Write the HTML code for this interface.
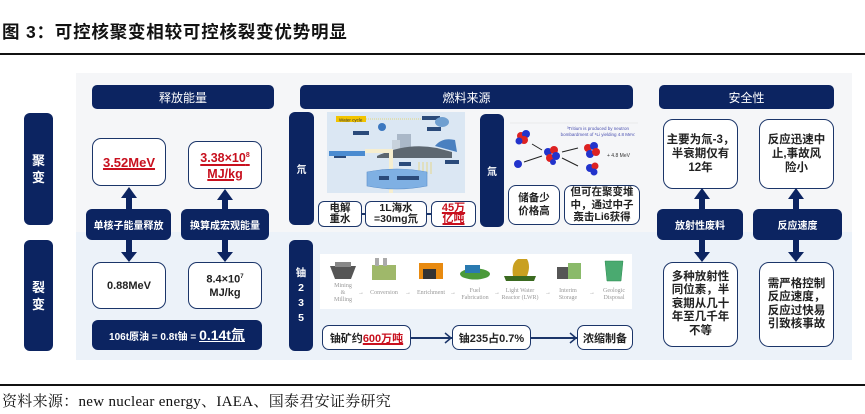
<!DOCTYPE html>
<html><head><meta charset="utf-8">
<style>
*{margin:0;padding:0;box-sizing:border-box}
body{width:865px;height:414px;background:#fff;position:relative;overflow:hidden;font-family:"Liberation Sans","Noto Sans CJK SC",sans-serif;}
.a{position:absolute}
.nv{position:absolute;background:#0c2461;color:#fff;border-radius:5px;display:flex;align-items:center;justify-content:center;text-align:center;font-weight:bold}
.wb{position:absolute;background:#fff;border:1.6px solid #1b3569;border-radius:9px;display:flex;align-items:center;justify-content:center;text-align:center;font-weight:bold;color:#222}
.red{color:#c8101e;text-decoration:underline;text-decoration-thickness:1.5px}
.vt{flex-direction:column;font-size:12px;line-height:15px}
.sh{position:absolute;background:#0c2461}
</style></head><body>
<div class="a" style="left:2px;top:19px;font-size:17.5px;font-weight:bold;color:#111;letter-spacing:0.8px;white-space:nowrap">图 3：可控核聚变相较可控核裂变优势明显</div>
<div class="a" style="left:0;top:53px;width:865px;height:1.5px;background:#111"></div>

<!-- panel -->
<div class="a" style="left:76px;top:73px;width:776px;height:159px;background:#f5f6f8"></div>
<div class="a" style="left:76px;top:232px;width:776px;height:128px;background:#ecf2f9"></div>

<!-- left labels -->
<div class="nv vt" style="left:24px;top:113px;width:29px;height:112px;border-radius:6px;font-size:13px;line-height:17px">聚<br>变</div>
<div class="nv vt" style="left:24px;top:240px;width:29px;height:111px;border-radius:6px;font-size:13px;line-height:17px">裂<br>变</div>

<!-- headers -->
<div class="nv" style="left:92px;top:85px;width:182px;height:24px;font-weight:normal;font-size:12px">释放能量</div>
<div class="nv" style="left:300px;top:85px;width:333px;height:24px;font-weight:normal;font-size:12px">燃料来源</div>
<div class="nv" style="left:659px;top:85px;width:175px;height:24px;font-weight:normal;font-size:12px">安全性</div>

<!-- energy section -->
<div class="wb" style="left:92px;top:138px;width:74px;height:48px"><span class="red" style="font-size:13px">3.52MeV</span></div>
<div class="wb" style="left:188px;top:141px;width:74px;height:48px;flex-direction:column;line-height:15px"><span class="red" style="font-size:12.5px">3.38×10<sup style="font-size:7px">8</sup></span><span class="red" style="font-size:12.5px">MJ/kg</span></div>
<!-- arrows up -->
<div class="sh" style="left:126px;top:196px;width:6px;height:14px"></div>
<svg class="a" style="left:121px;top:187px" width="16" height="11"><polygon points="8,0 16,11 0,11" fill="#0c2461"/></svg>
<div class="sh" style="left:222px;top:198px;width:6px;height:12px"></div>
<svg class="a" style="left:217px;top:189px" width="16" height="11"><polygon points="8,0 16,11 0,11" fill="#0c2461"/></svg>
<div class="nv" style="left:86px;top:209px;width:85px;height:31px;font-size:10px;border-radius:6px">单核子能量释放</div>
<div class="nv" style="left:181px;top:209px;width:88px;height:31px;font-size:10px;border-radius:6px">换算成宏观能量</div>
<!-- arrows down -->
<div class="sh" style="left:126px;top:240px;width:6px;height:14px"></div>
<svg class="a" style="left:121px;top:252px" width="16" height="10"><polygon points="0,0 16,0 8,10" fill="#0c2461"/></svg>
<div class="sh" style="left:222px;top:240px;width:6px;height:14px"></div>
<svg class="a" style="left:217px;top:252px" width="16" height="10"><polygon points="0,0 16,0 8,10" fill="#0c2461"/></svg>
<div class="wb" style="left:92px;top:262px;width:74px;height:47px;font-size:11px">0.88MeV</div>
<div class="wb" style="left:188px;top:262px;width:74px;height:47px;font-size:11px;flex-direction:column;line-height:13px"><span>8.4×10<sup style="font-size:6px">7</sup></span><span>MJ/kg</span></div>
<div class="nv" style="left:92px;top:320px;width:170px;height:30px;font-size:10px;border-radius:6px;white-space:nowrap">106t原油 = 0.8t铀 =&nbsp;<span style="font-size:14px;text-decoration:underline">0.14t氚</span></div>

<!-- fuel: deuterium -->
<div class="nv" style="left:289px;top:112px;width:25px;height:113px;font-size:10px;border-radius:6px">氘</div>
<svg class="a" style="left:327px;top:112px" width="138" height="81">
<rect width="138" height="81" fill="#dbe7f3"/>
<rect x="9" y="4" width="30" height="6" fill="#f2c400"/>
<text x="12" y="9.3" font-size="4.5" fill="#333" font-family="Liberation Sans">Water cycle</text>
<line x1="39" y1="7" x2="95" y2="7" stroke="#e6c200" stroke-dasharray="1,1" stroke-width=".6"/>
<rect x="95" y="4" width="18" height="4" fill="#2a4a7a"/>
<rect x="26" y="19" width="16" height="4" fill="#2a4a7a"/>
<rect x="100" y="15" width="14" height="4" fill="#2a4a7a"/>
<rect x="7" y="42" width="12" height="4" fill="#2a4a7a"/>
<ellipse cx="115" cy="10" rx="7" ry="5" fill="#6f9fd0"/>
<circle cx="55" cy="15" r="4" fill="#3c78c0"/>
<rect x="70" y="22" width="14" height="18" fill="#aab8c8"/>
<rect x="65" y="28" width="8" height="12" fill="#c8d2dc"/>
<path d="M50 44 Q80 30 110 36 L125 40 L125 46 L50 46Z" fill="#5d6770"/>
<rect x="2" y="39" width="36" height="5" fill="#4a8bd0"/>
<rect x="38" y="37" width="26" height="4" fill="#f6eecf"/>
<rect x="62" y="37" width="4" height="50" fill="#f6eecf"/>
<path d="M108 34 Q115 25 128 28 L130 40 Z" fill="#4a80c0"/>
<g stroke="#e8d060" stroke-width=".7"><line x1="92" y1="50" x2="92" y2="62"/><line x1="96" y1="50" x2="96" y2="62"/><line x1="100" y1="50" x2="100" y2="62"/><line x1="104" y1="50" x2="104" y2="62"/></g>
<rect x="118" y="48" width="14" height="4" fill="#2a4a7a"/>
<rect x="72" y="50" width="12" height="4" fill="#2a4a7a"/>
<path d="M40 60 Q70 54 100 60 L100 74 Q70 80 40 74Z" fill="#7fb0e3" stroke="#5c8fca" stroke-width=".6"/>
<rect x="52" y="64" width="10" height="4" fill="#2a4a7a"/>
<rect x="70" y="64" width="22" height="4" fill="#2a4a7a"/>
</svg>
<div class="wb" style="left:318px;top:201px;width:44px;height:26px;font-size:10.5px;line-height:11px;border-radius:6px">电解<br>重水</div>
<div class="a" style="left:362px;top:213px;width:3px;height:1.5px;background:#1b3569"></div>
<div class="wb" style="left:365px;top:201px;width:62px;height:26px;font-size:10.5px;line-height:11px;border-radius:6px">1L海水<br>=30mg氘</div>
<div class="a" style="left:427px;top:213px;width:4px;height:1.5px;background:#1b3569"></div>
<div class="wb" style="left:431px;top:201px;width:45px;height:26px;font-size:11px;line-height:11px;border-radius:6px"><span class="red">45万<br>亿吨</span></div>

<!-- fuel: tritium -->
<div class="nv" style="left:480px;top:114px;width:24px;height:113px;font-size:10px;border-radius:6px">氚</div>
<svg class="a" style="left:510px;top:122px" width="128" height="62">
<line x1="0" y1="1" x2="128" y2="1" stroke="#ddd" stroke-width=".5"/>
<text x="88" y="8" font-size="4.5" fill="#4a50b0" text-anchor="middle" font-family="Liberation Sans">³Tritium is produced by neutron</text>
<text x="88" y="14" font-size="4.5" fill="#4a50b0" text-anchor="middle" font-family="Liberation Sans">bombardment of ⁶Li yielding 4.8 MeV.</text>
<g><circle cx="11" cy="14" r="4" fill="#d22"/><circle cx="16" cy="12" r="4" fill="#23c"/><circle cx="14" cy="18" r="4" fill="#d22"/><circle cx="9" cy="19" r="3.5" fill="#23c"/></g>
<circle cx="8" cy="42" r="4" fill="#23c"/>
<g><circle cx="38" cy="30" r="4" fill="#23c"/><circle cx="44" cy="28" r="4" fill="#d22"/><circle cx="40" cy="36" r="4" fill="#d22"/><circle cx="46" cy="34" r="4" fill="#23c"/><circle cx="43" cy="40" r="3" fill="#23c"/></g>
<line x1="22" y1="22" x2="32" y2="28" stroke="#222" stroke-width="1"/>
<line x1="14" y1="40" x2="32" y2="34" stroke="#222" stroke-width="1"/>
<line x1="52" y1="30" x2="68" y2="26" stroke="#222" stroke-width="1"/>
<line x1="52" y1="36" x2="68" y2="44" stroke="#222" stroke-width="1"/>
<g><circle cx="78" cy="26" r="4" fill="#d22"/><circle cx="84" cy="24" r="4" fill="#23c"/><circle cx="80" cy="32" r="4" fill="#23c"/><circle cx="86" cy="30" r="4" fill="#d22"/></g>
<g><circle cx="80" cy="46" r="4" fill="#23c"/><circle cx="85" cy="44" r="3.5" fill="#d22"/><circle cx="84" cy="50" r="3.5" fill="#23c"/></g>
<text x="97" y="35" font-size="5" fill="#333" font-family="Liberation Sans">+ 4.8 MeV</text>
</svg>
<div class="wb" style="left:508px;top:185px;width:52px;height:40px;font-size:10.5px;line-height:13px;border-radius:8px">储备少<br>价格高</div>
<div class="wb" style="left:564px;top:185px;width:76px;height:40px;font-size:10.5px;line-height:12.5px;border-radius:8px">但可在聚变堆<br>中，通过中子<br>轰击Li6获得</div>

<!-- fuel: uranium -->
<div class="nv vt" style="left:289px;top:240px;width:24px;height:111px;font-size:10.5px;line-height:15px;border-radius:6px">铀<br>2<br>3<br>5</div>
<svg class="a" style="left:320px;top:254px" width="312" height="55">
<rect width="312" height="55" fill="#fff"/>
<g font-family="Liberation Serif" font-size="6" fill="#999" text-anchor="middle">
<text x="23" y="33">Mining</text><text x="23" y="40">&amp;</text><text x="23" y="47">Milling</text>
<text x="64" y="40">Conversion</text>
<text x="111" y="40">Enrichment</text>
<text x="155" y="38">Fuel</text><text x="155" y="45">Fabrication</text>
<text x="200" y="38">Light Water</text><text x="200" y="45">Reactor (LWR)</text>
<text x="248" y="38">Interim</text><text x="248" y="45">Storage</text>
<text x="294" y="38">Geologic</text><text x="294" y="45">Disposal</text>
<text x="41" y="40">→</text><text x="88" y="40">→</text><text x="133" y="40">→</text><text x="177" y="40">→</text><text x="228" y="40">→</text><text x="272" y="40">→</text>
</g>
<path d="M10 12 L36 12 L31 25 L15 25Z" fill="#555"/><rect x="15" y="8" width="16" height="5" fill="#888"/>
<rect x="52" y="11" width="24" height="15" fill="#9fb86a"/><rect x="55" y="4" width="4" height="8" fill="#aaa"/><rect x="63" y="4" width="4" height="8" fill="#aaa"/>
<rect x="99" y="9" width="24" height="16" fill="#e88a10"/><rect x="103" y="15" width="13" height="10" fill="#333"/>
<ellipse cx="155" cy="20" rx="15" ry="5.5" fill="#4a9a3a"/><rect x="145" y="11" width="15" height="8" fill="#2a7ab0"/>
<path d="M186 27 L214 27 L216 22 L184 22Z" fill="#3a6a20"/><path d="M193 22 Q191 9 198 5 L207 5 Q211 12 207 22Z" fill="#c9a020"/>
<rect x="237" y="13" width="24" height="12" fill="#555"/><rect x="248" y="9" width="13" height="16" fill="#8aba6a"/>
<path d="M285 7 L303 7 L301 27 L287 27Z" fill="#4aaa70" stroke="#2a8a50" stroke-width=".5"/>
</svg>
<div class="wb" style="left:322px;top:325px;width:89px;height:25px;font-size:11px;border-radius:7px">铀矿约<span class="red">600万吨</span></div>
<div class="a" style="left:411px;top:337px;width:41px;height:1.5px;background:#1b3569"></div>
<svg class="a" style="left:443px;top:332px" width="10" height="12"><polyline points="2,1 8,6 2,11" fill="none" stroke="#1b3569" stroke-width="1.5"/></svg>
<div class="wb" style="left:452px;top:325px;width:79px;height:25px;font-size:11px;border-radius:7px">铀235占0.7%</div>
<div class="a" style="left:531px;top:337px;width:46px;height:1.5px;background:#1b3569"></div>
<svg class="a" style="left:568px;top:332px" width="10" height="12"><polyline points="2,1 8,6 2,11" fill="none" stroke="#1b3569" stroke-width="1.5"/></svg>
<div class="wb" style="left:577px;top:325px;width:56px;height:25px;font-size:11px;border-radius:7px">浓缩制备</div>

<!-- safety -->
<div class="wb" style="left:663px;top:119px;width:75px;height:70px;font-size:11.5px;line-height:14px;border-radius:10px">主要为氚-3，<br>半衰期仅有<br>12年</div>
<div class="wb" style="left:759px;top:119px;width:75px;height:70px;font-size:11.5px;line-height:14px;border-radius:10px">反应迅速中<br>止,事故风<br>险小</div>
<div class="sh" style="left:699px;top:197px;width:6px;height:12px"></div>
<svg class="a" style="left:694px;top:188px" width="16" height="11"><polygon points="8,0 16,11 0,11" fill="#0c2461"/></svg>
<div class="sh" style="left:793px;top:197px;width:6px;height:12px"></div>
<svg class="a" style="left:788px;top:188px" width="16" height="11"><polygon points="8,0 16,11 0,11" fill="#0c2461"/></svg>
<div class="nv" style="left:657px;top:209px;width:86px;height:31px;font-size:10px;border-radius:6px">放射性废料</div>
<div class="nv" style="left:753px;top:209px;width:89px;height:31px;font-size:10px;border-radius:6px">反应速度</div>
<div class="sh" style="left:699px;top:240px;width:6px;height:14px"></div>
<svg class="a" style="left:694px;top:252px" width="16" height="10"><polygon points="0,0 16,0 8,10" fill="#0c2461"/></svg>
<div class="sh" style="left:793px;top:240px;width:6px;height:14px"></div>
<svg class="a" style="left:788px;top:252px" width="16" height="10"><polygon points="0,0 16,0 8,10" fill="#0c2461"/></svg>
<div class="wb" style="left:663px;top:262px;width:75px;height:85px;font-size:11.5px;line-height:13.5px;border-radius:10px">多种放射性<br>同位素，半<br>衰期从几十<br>年至几千年<br>不等</div>
<div class="wb" style="left:759px;top:262px;width:75px;height:85px;font-size:11.5px;line-height:13.5px;border-radius:10px">需严格控制<br>反应速度，<br>反应过快易<br>引致核事故</div>

<div class="a" style="left:0;top:384px;width:865px;height:1.5px;background:#111"></div>
<div class="a" style="left:2px;top:390px;font-family:'Liberation Serif','Noto Serif CJK SC',serif;font-size:15px;color:#111;white-space:nowrap;letter-spacing:0.3px">资料来源：new nuclear energy、IAEA、国泰君安证券研究</div>
</body></html>
